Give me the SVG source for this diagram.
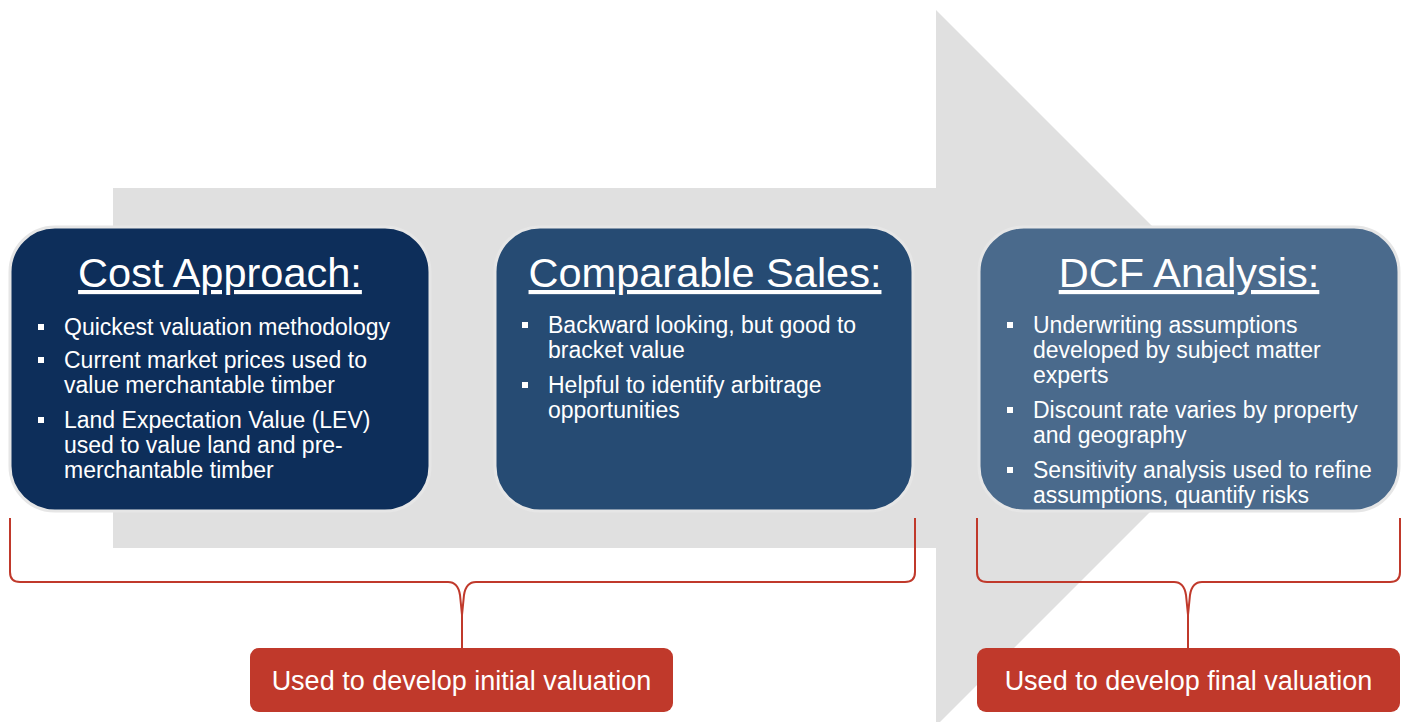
<svg xmlns="http://www.w3.org/2000/svg" width="1413" height="722" viewBox="0 0 1413 722">
<style>
.title{font-family:"Liberation Sans",Arial,sans-serif;font-size:41.5px;fill:#fff;text-anchor:middle;text-decoration:underline}
.bt{font-family:"Liberation Sans",Arial,sans-serif;font-size:23px;fill:#fff}
.lbl{font-family:"Liberation Sans",Arial,sans-serif;font-size:27px;fill:#fff;text-anchor:middle}
.box{stroke:#e6e6e6;stroke-width:3}
.brace{fill:none;stroke:#c0392b;stroke-width:2}
.red{fill:#c0392b}
</style>
<defs>
<rect id="sq" width="6" height="6" fill="#fff"/>
</defs>
<rect width="1413" height="722" fill="#fff"/>
<polygon id="bigArrow" points="113,188 936,188 936,10 1294,368 936,726 936,548 113,548" fill="#e0e0e0"/>

<g id="cost">
<rect class="box" x="10" y="227" width="420" height="284" rx="45" fill="#0d2e5a"/>
<text class="title" x="220" y="287">Cost Approach:</text>
<use href="#sq" x="38" y="324"/>
<text class="bt" x="64" y="335">Quickest valuation methodology</text>
<use href="#sq" x="38" y="357"/>
<text class="bt" x="64" y="368">Current market prices used to</text>
<text class="bt" x="64" y="393">value merchantable timber</text>
<use href="#sq" x="38" y="417"/>
<text class="bt" x="64" y="428">Land Expectation Value (LEV)</text>
<text class="bt" x="64" y="453">used to value land and pre-</text>
<text class="bt" x="64" y="478">merchantable timber</text>
</g>

<g id="comparable">
<rect class="box" x="495" y="227" width="418" height="284" rx="45" fill="#264b73"/>
<text class="title" x="705" y="287">Comparable Sales:</text>
<use href="#sq" x="522" y="322"/>
<text class="bt" x="548" y="333">Backward looking, but good to</text>
<text class="bt" x="548" y="358">bracket value</text>
<use href="#sq" x="522" y="382"/>
<text class="bt" x="548" y="393">Helpful to identify arbitrage</text>
<text class="bt" x="548" y="418">opportunities</text>
</g>

<g id="dcf">
<rect class="box" x="979" y="227" width="420" height="284" rx="45" fill="#4a6a8c"/>
<text class="title" x="1189" y="287">DCF Analysis:</text>
<use href="#sq" x="1007" y="322"/>
<text class="bt" x="1033" y="333">Underwriting assumptions</text>
<text class="bt" x="1033" y="358">developed by subject matter</text>
<text class="bt" x="1033" y="383">experts</text>
<use href="#sq" x="1007" y="407"/>
<text class="bt" x="1033" y="418">Discount rate varies by property</text>
<text class="bt" x="1033" y="443">and geography</text>
<use href="#sq" x="1007" y="467"/>
<text class="bt" x="1033" y="478">Sensitivity analysis used to refine</text>
<text class="bt" x="1033" y="503">assumptions, quantify risks</text>
</g>

<g id="connectors">
<path class="brace" d="M10,518 L10,572 Q10,582 20,582 L448,582 Q458,582 460,595 L462,615 L464,595 Q466,582 476,582 L905,582 Q915,582 915,572 L915,518 M462,612 L462,648"/>
<path class="brace" d="M977,518 L977,572 Q977,582 987,582 L1174,582 Q1184,582 1186,595 L1188,615 L1190,595 Q1192,582 1202,582 L1390,582 Q1400,582 1400,572 L1400,518 M1188,612 L1188,648"/>
</g>

<g id="initial">
<rect class="red" x="250" y="648" width="423" height="64" rx="9"/>
<text class="lbl" x="461.5" y="690">Used to develop initial valuation</text>
</g>

<g id="final">
<rect class="red" x="977" y="648" width="423" height="64" rx="9"/>
<text class="lbl" x="1188.5" y="690">Used to develop final valuation</text>
</g>
</svg>
